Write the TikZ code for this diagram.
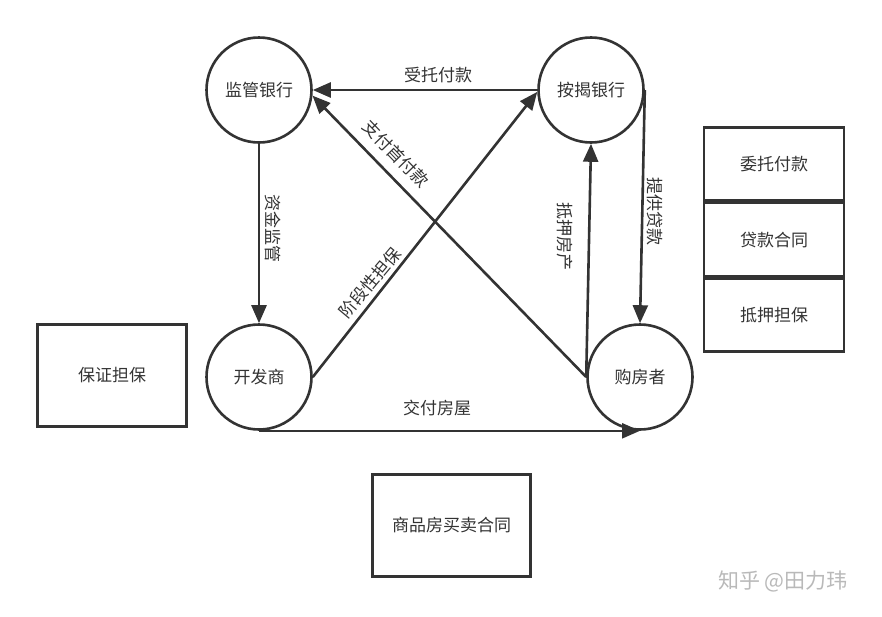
\documentclass[tikz,border=0pt]{standalone}
\usepackage{fontspec}
\setmainfont{Noto Sans CJK SC}
\usetikzlibrary{arrows.meta,positioning}
\definecolor{ink}{HTML}{333333}
\tikzset{
  party/.style={circle, draw=ink, line width=2.6pt, minimum size=105pt, inner sep=0pt},
  paper/.style={rectangle, draw=ink, line width=2.6pt, inner sep=0pt},
  flow/.style={->, draw=ink, line width=2.6pt},
}
\begin{document}
\begin{tikzpicture}[x=1pt, y=-1pt, >={Triangle[length=18pt,width=15pt]}, font=\fontsize{17}{20}\selectfont, text=ink]
 \useasboundingbox (0,0) rectangle (882,616);
 % parties
 \node[party] (jgyh) at (259,90) {监管银行};
 \node[party] (ajyh) at (591,90) {按揭银行};
 \node[party] (kfs) at (259,377) {开发商};
 \node[party] (gfz) at (640,377) {购房者};
 % contracts
 \node[paper, minimum width=140pt, minimum height=73pt] (wtfk) at (774,164) {委托付款};
 \node[paper, minimum width=140pt, minimum height=73pt, below=0pt of wtfk] (dkht) {贷款合同};
 \node[paper, minimum width=140pt, minimum height=73pt, below=0pt of dkht] (dydb) {抵押担保};
 \node[paper, minimum width=149pt, minimum height=102pt] (bzdb) at (112,375.5) {保证担保};
 \node[paper, minimum width=158pt, minimum height=102pt] (spfht) at (451.5,525.5) {商品房买卖合同};
 % flows
 \draw[flow] (ajyh.west) -- (jgyh.east);
 \draw[flow] (gfz.west) -- (jgyh.-6);
 \draw[flow] (kfs.east) -- (ajyh.182);
 \draw[flow] (jgyh.south) -- (kfs.north);
 \draw[flow] (gfz.west) -- (ajyh.south);
 \draw[flow] (ajyh.east) -- (gfz.north);
 \draw[flow] (kfs.south) -- (gfz.south);
 \node (stfk) at (438,75) {受托付款};
 \node[rotate=-90] (zjjg) at (273,228) {资金监管};
 \node[rotate=-46] (zfsfk) at (396,154) {支付首付款};
 \node[rotate=50] (jdxdb) at (370,283) {阶段性担保};
 \node[rotate=-90] (dyfc) at (565,236) {抵押房产};
 \node[rotate=-90] (tgdk) at (655,211) {提供贷款};
 \node (jffw) at (437,408) {交付房屋};
 \node[text=gray!55, font=\fontsize{21}{24}\selectfont] (zhihu) at (783,581) {知乎 @田力玮};
\end{tikzpicture}
\end{document}
